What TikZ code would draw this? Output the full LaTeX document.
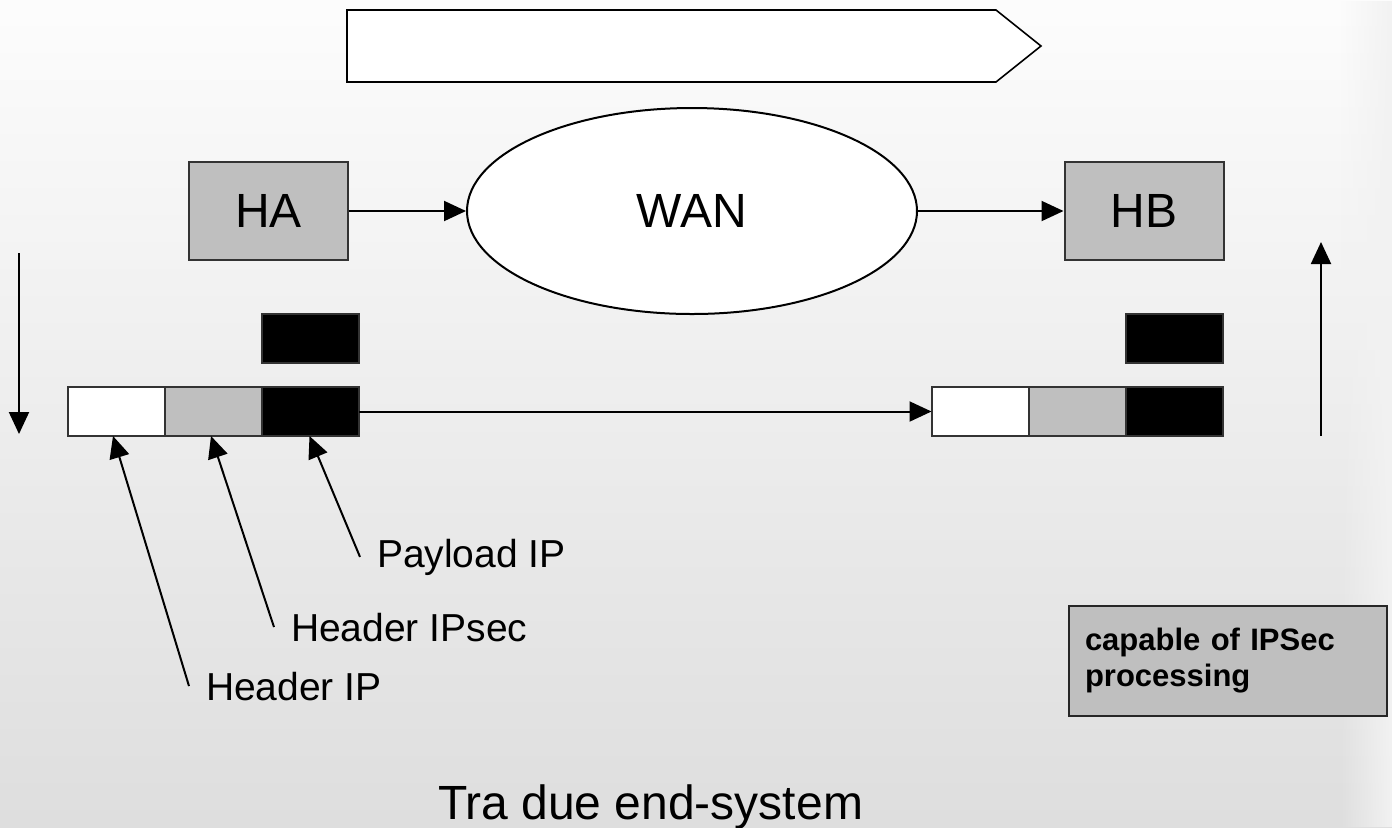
\documentclass[tikz,border=0pt]{standalone}
\usepackage{fontspec}
\setmainfont{Liberation Sans}
\usetikzlibrary{arrows.meta}
\usetikzlibrary{shapes.geometric}
\usetikzlibrary{positioning}
\usetikzlibrary{fadings}
\tikzfading[name=fade in right, left color=transparent!100, right color=transparent!0]
\newcommand{\hosttext}{\fontsize{24}{28}\selectfont}
\newcommand{\labeltext}{\fontsize{19.5}{23}\selectfont}
\newcommand{\notetext}{\fontsize{15.5}{18}\selectfont\bfseries}

\begin{document}
\begin{tikzpicture}[
  x=0.5pt, y=-0.5pt, line width=1pt,
  > = {Triangle[length=11pt,width=10pt]},
  host/.style = {draw=black!80, fill=black!25, minimum width=79.5pt, minimum height=49pt, inner sep=0pt, font=\hosttext},
  cell/.style = {draw=black!80, minimum width=48.5pt, minimum height=24.5pt, inner sep=0pt, outer sep=0pt},
  hdr/.style = {cell, fill=white},
  sec/.style = {cell, fill=black!25},
  pay/.style = {cell, fill=black},
  lbl/.style = {anchor=base west, inner xsep=8pt, inner ysep=0pt, font=\labeltext}
  ]
	% background
	\shade[top color=black!1, bottom color=black!13] (0,0) rectangle (1392,827);
	\fill[black!5, path fading=fade in right] (1340,0) rectangle (1392,827);
	\useasboundingbox (0,0) rectangle (1392,827);

	% empty banner arrow
	\coordinate (@b1) at (347,10);
	\coordinate (@b2) at (996,10);
	\coordinate (@b3) at (1041,46);
	\coordinate (@b4) at (996,82);
	\coordinate (@b5) at (347,82);
	\draw[fill=white, line width=0.8pt] (@b1) -- (@b2) -- (@b3) -- (@b4) -- (@b5) -- cycle;

	\node[host] (ha) at (268.5,211) {HA};
	\node[draw, fill=white, ellipse, minimum width=225pt, minimum height=103pt, inner sep=0pt, font=\hosttext] (wan) at (692,211) {WAN};
	\node[host] (hb) at (1144,211) {HB};

	\draw[->] (ha) -- (wan);
	\draw[->] (wan) -- (hb);

	% packet at HA
	\node[hdr] (pa1) at (116.5,411.5) {};
	\node[sec, right=0pt of pa1] (pa2) {};
	\node[pay, right=0pt of pa2] (pa3) {};
	\node[pay, above=12pt of pa3] (da) {};

	% packet at HB
	\node[hdr] (pb1) at (980,411.5) {};
	\node[sec, right=0pt of pb1] (pb2) {};
	\node[pay, right=0pt of pb2] (pb3) {};
	\node[pay, above=12pt of pb3] (db) {};

	\draw[->] (pa3) -- (pb1);

	\coordinate (@down1) at (19,253);
	\coordinate (@down2) at (19,434);
	\coordinate (@up1) at (1321,436);
	\coordinate (@up2) at (1321,242);
	\draw[->] (@down1) -- (@down2);
	\draw[->] (@up1) -- (@up2);

	% labels of the fields
	\node[lbl] (lpay) at (360,567) {Payload IP};
	\node[lbl] (lsec) at (274,641) {Header IPsec};
	\node[lbl] (lhdr) at (189,700) {Header IP};

	\draw[->] (lpay.west) -- ([xshift=-0.5pt]pa3.south);
	\draw[->] (lsec.west) -- ([xshift=-1.25pt]pa2.south);
	\draw[->] (lhdr.west) -- ([xshift=-1.75pt]pa1.south);

	\node[draw=black!85, fill=black!25, minimum width=159pt, minimum height=55pt, inner xsep=8pt, text width=143pt, align=left, font=\notetext] (note) at (1228,661) {capable of IPSec\\processing};

	\node[anchor=base west, inner sep=0pt, font=\hosttext] (title) at (437,819) {Tra due end-system};

\end{tikzpicture}
\end{document}
